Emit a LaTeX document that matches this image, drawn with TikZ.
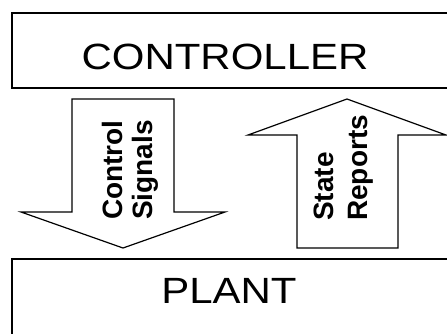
\documentclass[tikz,border=0pt]{standalone}
\usepackage{fontspec}
\setmainfont{Liberation Sans}
\newfontfamily\widesans[FakeStretch=1.15]{Liberation Sans}
\begin{document}
\begin{tikzpicture}[x=1pt,y=-1pt,
  block/.style={draw=black,line width=1.2pt,fill=white},
  bigarrow/.style={draw=black,line width=1.2pt,fill=white,line join=miter},
  biglabel/.style={inner sep=0pt,anchor=base,font=\widesans\fontsize{36.5}{40}\selectfont},
  arrowlabel/.style={inner sep=0pt,anchor=base west,rotate=90,
    font=\fontsize{28}{32}\selectfont\bfseries}]
  \clip (0,0) rectangle (447,333);
  \fill[white] (0,0) rectangle (447,333);

  % controller and plant boxes (their right sides run past the page edge)
  \draw[block] (12,13) rectangle (470,88);
  \draw[block] (12,259) rectangle (470,360);
  \node[biglabel] (ctrl) at (225,69) {CONTROLLER};
  \node[biglabel] (plant) at (229,303) {PLANT};

  % downward block arrow
  \draw[bigarrow] (72,99) -- (174,99) -- (174,212) -- (225,212)
    -- (123,248) -- (21,212) -- (72,212) -- cycle;
  \node[arrowlabel] (ctrlsigA) at (122,220) {Control};
  \node[arrowlabel] (ctrlsigB) at (152,220) {Signals};

  % upward block arrow
  \draw[bigarrow] (347,99) -- (446,135) -- (398,135) -- (398,248)
    -- (297,248) -- (297,135) -- (248,135) -- cycle;
  \node[arrowlabel] (stateA) at (333,221) {State};
  \node[arrowlabel] (stateB) at (367,221) {Reports};
\end{tikzpicture}
\end{document}
